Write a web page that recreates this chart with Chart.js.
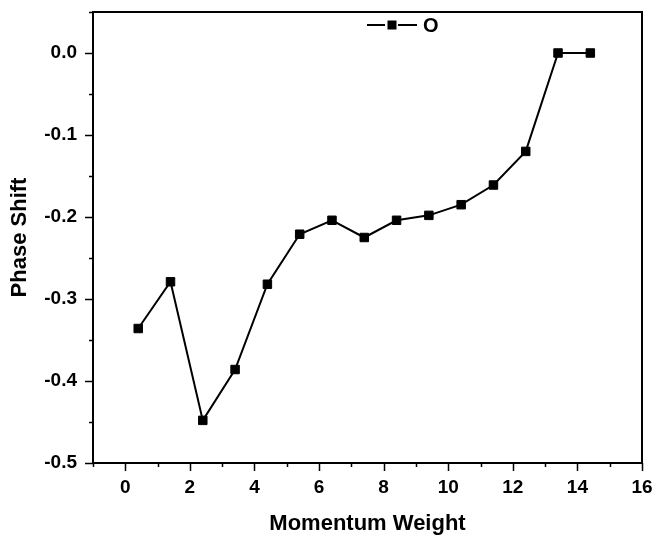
<!DOCTYPE html>
<html>
<head>
<meta charset="utf-8">
<script src="https://cdn.jsdelivr.net/npm/chart.js@4.4.1/dist/chart.umd.min.js"></script>
<style>
  html, body { margin: 0; padding: 0; background: #fff; }
  #wrap { width: 654px; height: 537px; }
</style>
</head>
<body>
<div id="wrap"><canvas id="c" width="654" height="537"></canvas></div>
<script>
const momentumWeight = [0.4, 1.4, 2.4, 3.4, 4.4, 5.4, 6.4, 7.4, 8.4, 9.4, 10.4, 11.4, 12.4, 13.4, 14.4];
const phaseShift = [-0.336, -0.279, -0.448, -0.386, -0.282, -0.221, -0.204, -0.225, -0.204, -0.198, -0.185, -0.161, -0.120, 0.0, 0.0];
const seriesName = 'O';
const xTitle = 'Momentum Weight';
const yTitle = 'Phase Shift';
const xLabelValues = [0, 2, 4, 6, 8, 10, 12, 14, 16];
const yLabelValues = [0.0, -0.1, -0.2, -0.3, -0.4, -0.5];

const FONT = "'Liberation Sans', Arial, Helvetica, sans-serif";

function isLabelX(v) { return xLabelValues.some(l => Math.abs(l - v) < 1e-6); }
function isLabelY(v) { return yLabelValues.some(l => Math.abs(l - v) < 1e-6); }

const framePlugin = {
  id: 'frameTicks',
  afterDraw(chart) {
    const ctx = chart.ctx;
    const a = chart.chartArea;
    const xs = chart.scales.x, ys = chart.scales.y;
    ctx.save();
    ctx.strokeStyle = '#000';
    ctx.lineWidth = 2;
    ctx.strokeRect(a.left, a.top, a.right - a.left, a.bottom - a.top);
    ctx.lineWidth = 1.5;
    ctx.beginPath();
    xs.ticks.forEach(t => {
      const px = Math.round(xs.getPixelForValue(t.value)) + 0.5;
      const len = isLabelX(t.value) ? 8 : 4;
      ctx.moveTo(px, a.bottom);
      ctx.lineTo(px, a.bottom + len);
    });
    ys.ticks.forEach(t => {
      const py = Math.round(ys.getPixelForValue(t.value)) + 0.5;
      const len = isLabelY(t.value) ? 8 : 4;
      ctx.moveTo(a.left, py);
      ctx.lineTo(a.left - len, py);
    });
    ctx.stroke();

    // legend: line - square - line, with small gaps
    const ly = a.top + 13;
    const lx = a.left + 274;
    ctx.lineWidth = 2;
    ctx.beginPath();
    ctx.moveTo(lx, ly);
    ctx.lineTo(lx + 18, ly);
    ctx.moveTo(lx + 31, ly);
    ctx.lineTo(lx + 50, ly);
    ctx.stroke();
    ctx.fillStyle = '#000';
    ctx.fillRect(lx + 25 - 4.5, ly - 4.5, 9, 9);
    ctx.font = "bold 20px " + FONT;
    ctx.textBaseline = 'middle';
    ctx.textAlign = 'left';
    ctx.fillText(seriesName, lx + 56, ly + 1);
    ctx.restore();
  }
};

new Chart(document.getElementById('c'), {
  type: 'scatter',
  data: {
    datasets: [{
      label: seriesName,
      data: momentumWeight.map((x, i) => ({ x: x, y: phaseShift[i] })),
      showLine: true,
      borderColor: '#000',
      backgroundColor: '#000',
      borderWidth: 2,
      pointStyle: 'rect',
      pointRadius: 6,
      pointBorderWidth: 1,
      pointBackgroundColor: '#000',
      pointBorderColor: '#000',
      clip: false
    }]
  },
  options: {
    responsive: false,
    animation: false,
    devicePixelRatio: 1,
    layout: { padding: { top: 12, right: 12, left: 0, bottom: 0 } },
    plugins: { legend: { display: false }, tooltip: { enabled: false } },
    scales: {
      x: {
        type: 'linear',
        min: -1,
        max: 16,
        afterFit(s) { s.height = 74; s.paddingLeft = 0; s.paddingRight = 0; },
        grid: { display: true, drawOnChartArea: false, drawTicks: false },
        border: { display: true, color: '#000', width: 2 },
        ticks: {
          stepSize: 1,
          autoSkip: false,
          maxRotation: 0,
          padding: 13,
          color: '#000',
          font: { family: FONT, size: 19, weight: 'bold' },
          callback: v => isLabelX(v) ? String(Math.round(v)) : ''
        },
        title: {
          display: true,
          text: xTitle,
          color: '#000',
          font: { family: FONT, size: 22, weight: 'bold' },
          padding: { top: 0, bottom: 0 }
        }
      },
      y: {
        type: 'linear',
        min: -0.5,
        max: 0.05,
        afterFit(s) { s.width = 93; s.paddingTop = 0; s.paddingBottom = 0; },
        grid: { display: true, drawOnChartArea: false, drawTicks: false },
        border: { display: true, color: '#000', width: 2 },
        ticks: {
          stepSize: 0.05,
          autoSkip: false,
          padding: 16,
          color: '#000',
          font: { family: FONT, size: 19, weight: 'bold' },
          callback: v => isLabelY(v) ? Number(v).toFixed(1).replace('-0.0', '0.0') : ''
        },
        title: {
          display: true,
          text: yTitle,
          color: '#000',
          font: { family: FONT, size: 22, weight: 'bold' },
          padding: { top: 7, bottom: 0 }
        }
      }
    }
  },
  plugins: [framePlugin]
});
</script>
</body>
</html>
